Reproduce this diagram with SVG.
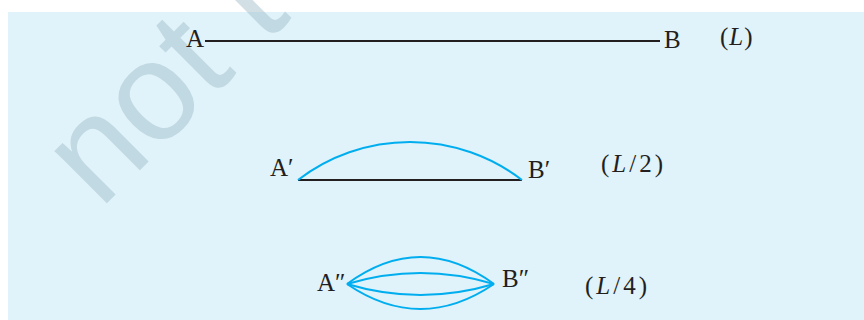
<svg xmlns="http://www.w3.org/2000/svg" width="864" height="320" viewBox="0 0 864 320">
<style>
.lbl{font-family:"Liberation Serif","DejaVu Serif",serif;font-size:25px;fill:#231f20}
.par{letter-spacing:3px}
.it{font-style:italic}
.wire{fill:none;stroke:#00aeef;stroke-width:2}
.chord{fill:none;stroke:#231f20;stroke-width:2}
.wm{font-family:"Liberation Sans",Arial,sans-serif;font-size:140px;fill:#9dbcc6;opacity:0.45}
</style>
<rect x="0" y="0" width="864" height="320" fill="#ffffff"/>
<rect x="8" y="12" width="856" height="308" fill="#e0f2fa"/>
<text class="wm" transform="translate(100,210) rotate(-45)">not t</text>
<g id="connectors">
<line class="chord" x1="205" y1="41" x2="660" y2="41"/>
<line class="chord" x1="298" y1="180" x2="522" y2="180"/>
<path class="wire" d="M298,180 A184,184 0 0 1 522,180"/>
<path class="wire" d="M347,284 Q420.5,230 494,284"/>
<path class="wire" d="M347,284 Q420.5,262 494,284"/>
<path class="wire" d="M347,284 Q420.5,306 494,284"/>
<path class="wire" d="M347,284 Q420.5,334 494,284"/>
</g>
<g id="nodeA"><text class="lbl" x="186" y="47">A</text></g>
<g id="nodeB"><text class="lbl" x="664" y="48">B</text></g>
<g id="labelL"><text class="lbl" x="720" y="45" style="letter-spacing:1px">(<tspan class="it">L</tspan>)</text></g>
<g id="nodeA1"><text class="lbl" x="270" y="176">A′</text></g>
<g id="nodeB1"><text class="lbl" x="528" y="178">B′</text></g>
<g id="labelL2"><text class="lbl par" x="601" y="172">(<tspan class="it">L</tspan>/2)</text></g>
<g id="nodeA2"><text class="lbl" x="317" y="291">A″</text></g>
<g id="nodeB2"><text class="lbl" x="502" y="287">B″</text></g>
<g id="labelL4"><text class="lbl par" x="585" y="294">(<tspan class="it">L</tspan>/4)</text></g>
</svg>
